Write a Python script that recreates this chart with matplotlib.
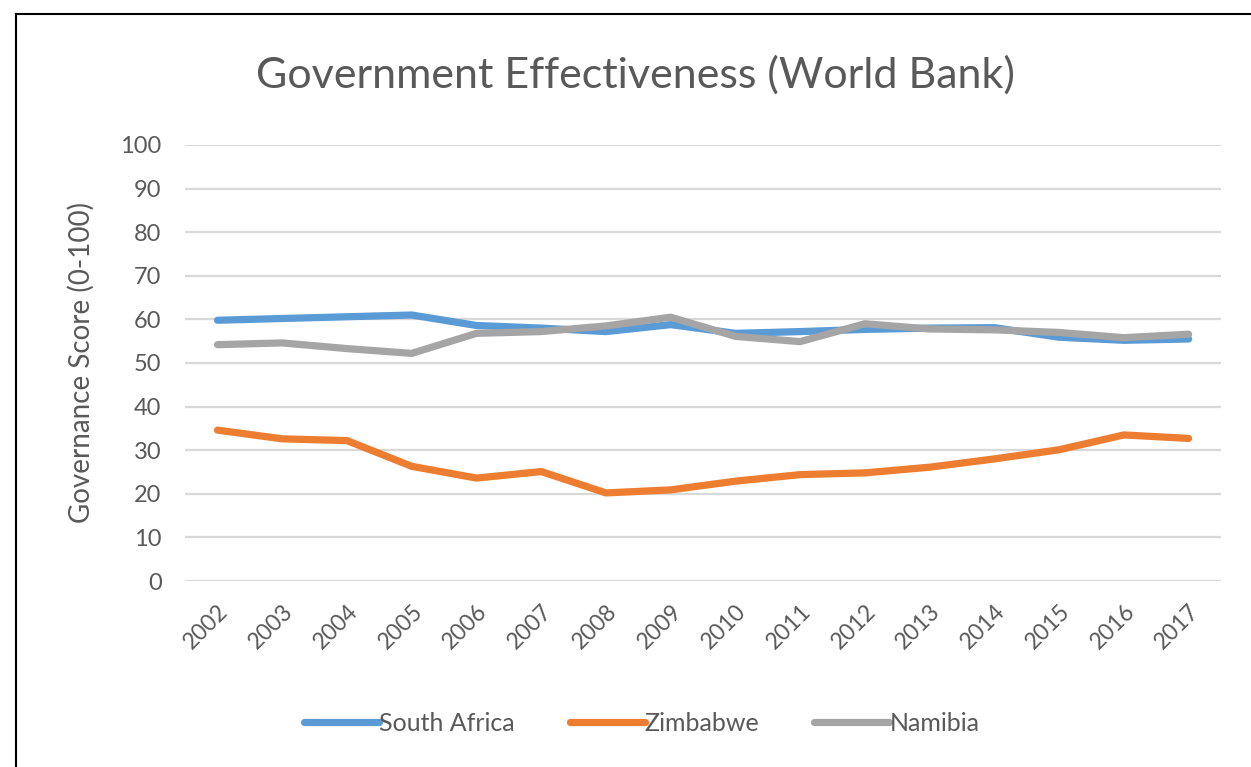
import matplotlib
matplotlib.use("Agg")
import matplotlib.pyplot as plt
from matplotlib.lines import Line2D

years = ["2002", "2003", "2004", "2005", "2006", "2007", "2008", "2009",
         "2010", "2011", "2012", "2013", "2014", "2015", "2016", "2017"]
south_africa = [59.8, 60.2, 60.6, 61.0, 58.6, 58.0, 57.2, 58.8,
                56.8, 57.2, 57.7, 58.0, 58.1, 55.9, 55.2, 55.5]
zimbabwe = [34.6, 32.6, 32.2, 26.3, 23.6, 25.1, 20.2, 20.9,
            22.9, 24.4, 24.8, 26.1, 28.0, 30.1, 33.5, 32.7]
namibia = [54.2, 54.6, 53.3, 52.2, 56.8, 57.2, 58.5, 60.5,
           56.1, 54.9, 59.0, 57.8, 57.6, 57.0, 55.8, 56.6]
series_names = ["South Africa", "Zimbabwe", "Namibia"]
colors = ["#5B9BD5", "#ED7D31", "#A5A5A5"]
yticks = list(range(0, 101, 10))

plt.rcParams['font.family'] = ['Lato', 'DejaVu Sans']
txt = "#595959"

fig = plt.figure(figsize=(12.51, 7.67), dpi=100)
ax = fig.add_axes([0.148, 0.2425, 0.828, 0.5685])

x = list(range(len(years)))
for vals, name, c in zip([south_africa, zimbabwe, namibia], series_names, colors):
    ax.plot(x, vals, color=c, lw=5.2, label=name, solid_capstyle='round', zorder=3)

ax.set_xlim(-0.5, len(years) - 0.5)
ax.set_ylim(0, 100)
ax.set_yticks(yticks)
ax.set_yticklabels([str(t) for t in yticks], fontsize=17, color=txt)
ax.set_xticks(x)
ax.set_xticklabels(years, rotation=45, ha='right', rotation_mode='anchor',
                   fontsize=16.5, color=txt)
ax.tick_params(axis='y', length=0, pad=17)
ax.tick_params(axis='x', length=0, pad=14)
ax.grid(axis='y', color='#D9D9D9', lw=1.6, zorder=0)
for s in ax.spines.values():
    s.set_visible(False)
ax.set_ylabel("Governance Score (0-100)", fontsize=20, color=txt)
ax.yaxis.set_label_coords(-0.087, 0.5)

fig.text(0.508, 0.902, "Government Effectiveness (World Bank)", ha='center',
         va='center', fontsize=31, color=txt)

leg = fig.legend(loc='center', bbox_to_anchor=(0.513, 0.057), ncol=3, frameon=False,
                 fontsize=18, handlelength=3.0, handletextpad=0.0, columnspacing=2.2,
                 labelcolor=txt)

# chart frame border (top & left visible in screenshot)
fig.add_artist(Line2D([16 / 1251, 1.0], [1 - 14 / 767, 1 - 14 / 767],
                      transform=fig.transFigure, color='black', lw=1.5))
fig.add_artist(Line2D([16 / 1251, 16 / 1251], [0.0, 1 - 14 / 767],
                      transform=fig.transFigure, color='black', lw=1.5))

fig.savefig("out.png", dpi=100, facecolor='white')
